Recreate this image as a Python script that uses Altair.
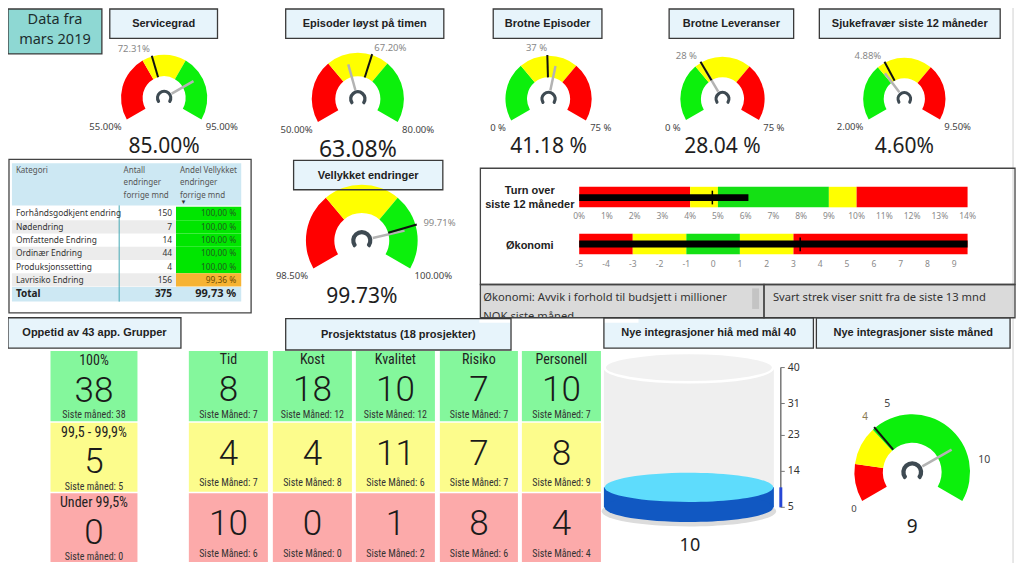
import math
import altair as alt
import pandas as pd

# ------------------------------------------------------------------ chart values
DATA_FROM_LINES = ["Data fra", "mars 2019"]

GAUGE_TITLES = ["Servicegrad", "Episoder løyst på timen", "Brotne Episoder",
                "Brotne Leveranser", "Sjukefravær siste 12 måneder",
                "Vellykket endringer", "Nye integrasjoner siste måned"]
GAUGE_MIN = [55.0, 50.0, 0.0, 0.0, 2.0, 98.5, 0.0]
GAUGE_MAX = [95.0, 80.0, 75.0, 75.0, 9.5, 100.0, 12.0]
GAUGE_BREAK_LOW = [70.0, 60.0, 25.0, 25.0, 4.5, 99.0, 1.9]
GAUGE_BREAK_HIGH = [80.0, 70.0, 50.0, 50.0, 7.0, 99.5, 3.85]
GAUGE_HIGHER_IS_BETTER = [True, True, False, False, False, True, True]
GAUGE_VALUE = [85.00, 63.08, 41.18, 28.04, 4.60, 99.73, 9.0]
GAUGE_TARGET = [72.31, 67.20, 37.0, 28.0, 4.88, 99.71, 4.0]
GAUGE_VALUE_TEXT = ["85.00%", "63.08%", "41.18 %", "28.04 %", "4.60%", "99.73%", "9"]
GAUGE_MIN_TEXT = ["55.00%", "50.00%", "0 %", "0 %", "2.00%", "98.50%", "0"]
GAUGE_MAX_TEXT = ["95.00%", "80.00%", "75 %", "75 %", "9.50%", "100.00%", ""]
GAUGE_TARGET_TEXT = ["72.31%", "67.20%", "37 %", "28 %", "4.88%", "99.71%", "4"]
LAST_GAUGE_TICKS = [5, 10]

TABLE_HEADERS = [["Kategori"], ["Antall", "endringer", "forrige mnd"],
                 ["Andel Vellykket", "endringer", "forrige mnd"]]
TABLE_CATEGORIES = ["Forhåndsgodkjent endring", "Nødendring", "Omfattende Endring",
                    "Ordinær Endring", "Produksjonssetting", "Lavrisiko Endring"]
TABLE_COUNTS = [150, 7, 14, 44, 4, 156]
TABLE_SHARE = [100.00, 100.00, 100.00, 100.00, 100.00, 99.36]
TABLE_TOTAL_COUNT = 375
TABLE_TOTAL_SHARE = 99.73

BULLET_NAMES = [["Turn over", "siste 12 måneder"], ["Økonomi"]]
BULLET_BREAKS = [[0, 4, 5, 9, 10, 14], [-5, -3, -1, 1, 3, 9.5]]
BULLET_VALUES = [6.1, 9.5]
BULLET_TARGETS = [4.8, 3.25]
BULLET_TICKS = [[0, 1, 2, 3, 4, 5, 6, 7, 8, 9, 10, 11, 12, 13, 14],
                [-5, -4, -3, -2, -1, 0, 1, 2, 3, 4, 5, 6, 7, 8, 9]]
BULLET_TICK_SUFFIX = ["%", ""]
NOTE_LEFT = ["Økonomi: Avvik i forhold til budsjett i millioner", "NOK siste måned"]
NOTE_RIGHT = "Svart strek viser snitt fra de siste 13 mnd"

UPTIME_TITLE = "Oppetid av 43 app. Grupper"
UPTIME_LABELS = ["100%", "99,5 - 99,9%", "Under 99,5%"]
UPTIME_VALUES = [38, 5, 0]
UPTIME_LAST = [38, 5, 0]

PROJECT_TITLE = "Prosjektstatus (18 prosjekter)"
PROJECT_CATEGORIES = ["Tid", "Kost", "Kvalitet", "Risiko", "Personell"]
PROJECT_GREEN = [8, 18, 10, 7, 10]
PROJECT_GREEN_LAST = [7, 12, 12, 7, 7]
PROJECT_YELLOW = [4, 4, 11, 7, 8]
PROJECT_YELLOW_LAST = [7, 8, 6, 7, 9]
PROJECT_RED = [10, 0, 1, 8, 4]
PROJECT_RED_LAST = [6, 0, 2, 6, 4]

TANK_TITLE = "Nye integrasjoner hiå med mål 40"
TANK_VALUE = 10
TANK_MIN = 5
TANK_MAX = 40
TANK_TICKS = [5, 14, 23, 31, 40]

# ------------------------------------------------------------------ styles
RED, YELLOW, GREEN = "#ff0000", "#ffff00", "#0cf00c"
TILE_COLORS = ["#84f79c", "#fcfc8c", "#fcaaaa"]
BOX_FILL, BOX_STROKE = "#e7f4fb", "#3a3a3a"
SANS = "Noto Sans"
BOLD = "Liberation Sans"
NARROW = "Liberation Sans Narrow, Roboto Condensed, Roboto"

# ------------------------------------------------------------------ layout (page pixels)
GAUGE_LAYOUT = [
    dict(cx=160, cy=93, ro=44, ri=22, box=(105, 2, 214, 32), vy=143, vs=21),
    dict(cx=356, cy=94, ro=47, ri=23, box=(283, 2, 443, 32), vy=146, vs=23),
    dict(cx=549, cy=94, ro=44, ri=22, box=(493, 2, 603, 32), vy=143, vs=21),
    dict(cx=725, cy=94, ro=43, ri=22, box=(671, 2, 797, 32), vy=143, vs=21),
    dict(cx=909, cy=94, ro=42, ri=21, box=(823, 2, 1006, 32), vy=143, vs=21),
    dict(cx=360, cy=239, ro=57, ri=28, box=(291, 157, 442, 187), vy=297, vs=21),
    dict(cx=917, cy=476, ro=59, ri=30, box=(820, 318, 1016, 349), vy=532, vs=19,
         centered=True),
]
K = 0.98  # pixel radius factor (page -> chart)

rects, borders, arcs, hubs, rules = [], [], [], [], []
pts_under, pts_over, texts = [], [], {}


def rect(x0, y0, x1, y1, fill):
    rects.append(dict(x=x0, x2=x1, y=y0, y2=y1, fill=fill))


def border(x0, y0, x1, y1, stroke=BOX_STROKE, w=1.3):
    borders.append(dict(x=x0, x2=x1, y=y0, y2=y1, stroke=stroke, sw=w))


def rule(x0, y0, x1, y1, color, w):
    rules.append(dict(x=x0, y=y0, x2=x1, y2=y1, color=color, sw=w))


def text(x, y, s, size, color, font=SANS, weight="normal", align="center"):
    texts.setdefault((font, weight, align), []).append(
        dict(x=x, y=y, text=s, size=size, color=color))


def title_box(box, title, fill=BOX_FILL):
    rect(*box, fill)
    border(*box)
    text((box[0] + box[2]) / 2, (box[1] + box[3]) / 2 + 0.5, title, 11, "#222", BOLD, "bold")


# Data fra box
rect(2, 2, 97, 48, "#8ed8d3")
border(2, 2, 97, 48)
text(49.5, 13.5, DATA_FROM_LINES[0], 14.5, "#1d2e2e")
text(49.5, 33.5, DATA_FROM_LINES[1], 14.5, "#1d2e2e")

# ------------------------------------------------------------------ gauges
for i in range(len(GAUGE_TITLES)):
    L = GAUGE_LAYOUT[i]
    cx, cy, ro, ri = L["cx"], L["cy"], L["ro"], L["ri"]
    lo, hi = GAUGE_MIN[i], GAUGE_MAX[i]

    def ang(v, lo=lo, hi=hi):
        return math.radians(-120 + 240 * (v - lo) / (hi - lo))

    edges = [lo, GAUGE_BREAK_LOW[i], GAUGE_BREAK_HIGH[i], hi]
    cols = [RED, YELLOW, GREEN] if GAUGE_HIGHER_IS_BETTER[i] else [GREEN, YELLOW, RED]
    for a, b, c in zip(edges[:-1], edges[1:], cols):
        arcs.append(dict(x=cx, y=cy, t0=ang(a), t1=ang(b), r0=ri * K, r1=ro * K, fill=c))
    hubs.append(dict(x=cx, y=cy, t0=-2.35, t1=2.35, r0=0.115 * ro * K, r1=0.19 * ro * K,
                     fill="#3e4a52"))
    av, at = ang(GAUGE_VALUE[i]), ang(GAUGE_TARGET[i])
    rule(cx + 0.2 * ro * math.sin(av), cy - 0.2 * ro * math.cos(av),
         cx + 0.78 * ro * math.sin(av), cy - 0.78 * ro * math.cos(av), "#b3b3b3", 2.5)
    rule(cx + ri * math.sin(at), cy - ri * math.cos(at),
         cx + (ro + 1) * math.sin(at), cy - (ro + 1) * math.cos(at), "#111111", 2)
    title_box(L["box"], GAUGE_TITLES[i])
    text(cx, L["vy"], GAUGE_VALUE_TEXT[i], L["vs"], "#1e1e1e")
    ex, ey = ro * math.sin(math.radians(120)), cy + ro * 0.5
    text(cx - ex - 5, ey + 8, GAUGE_MIN_TEXT[i], 9.5, "#444", align="right")
    if GAUGE_MAX_TEXT[i]:
        text(cx + ex + 4, ey + 8, GAUGE_MAX_TEXT[i], 9.5, "#444", align="left")
    if L.get("centered"):
        d = ro + 15
        text(cx + d * math.sin(at), cy - d * math.cos(at), GAUGE_TARGET_TEXT[i], 10, "#8a7a50")
        for t in LAST_GAUGE_TICKS:
            a = ang(t)
            text(cx + d * math.sin(a), cy - d * math.cos(a), str(t), 10.5, "#444")
    else:
        d = ro + 8
        text(cx + d * math.sin(at), cy - d * math.cos(at), GAUGE_TARGET_TEXT[i], 9.5, "#888",
             align="right" if at < 0 else "left")

# ------------------------------------------------------------------ table
rect(3, 156, 248, 313, "#ffffff")
border(3, 156, 248, 313, "#444", 1.3)
rect(6, 160, 238, 203, "#cde8f3")
for col_x, lines in zip([10, 119, 176], TABLE_HEADERS):
    for j, ln in enumerate(lines):
        text(col_x, 168 + j * 12.5, ln, 8, "#555", align="left")
text(179.5, 199.5, "▼", 6, "#333")
row_h, row_top = 13.6, 204.5
for r in range(len(TABLE_CATEGORIES)):
    y0 = row_top + r * row_h
    yc = y0 + row_h / 2
    if r % 2 == 1:
        rect(6, y0, 172, y0 + row_h, "#ececec")
    ok = TABLE_SHARE[r] >= 99.5
    rect(172, y0, 238, y0 + row_h, "#00e600" if ok else "#f6b333")
    text(10, yc, TABLE_CATEGORIES[r], 8.4, "#333", align="left")
    text(168, yc, str(TABLE_COUNTS[r]), 8.4, "#333", align="right")
    text(233, yc, f"{TABLE_SHARE[r]:.2f}".replace(".", ",") + " %", 8.4,
         "#1f5e1f" if ok else "#6b4c00", align="right")
rect(6, 286.5, 238, 301.5, "#cde8f3")
text(10, 294, "Total", 10, "#222", SANS, "bold", "left")
text(168, 294, str(TABLE_TOTAL_COUNT), 10, "#222", SANS, "bold", "right")
text(233, 294, f"{TABLE_TOTAL_SHARE:.2f}".replace(".", ",") + " %", 11, "#222", SANS, "bold", "right")
rule(114.5, 203, 114.5, 301.5, "#46a9b6", 1)

# ------------------------------------------------------------------ bullet charts
rect(480, 165, 1021, 284, "#ffffff")
border(480, 165, 1021, 284, "#444", 1.3)
BX0, BX1 = 580, 973
BULLET_ROWS = [dict(bar=(184, 205), meas=(191.5, 198.5), tgt=(188, 202), tick_y=214,
                    label_y=[188, 203]),
               dict(bar=(232, 253), meas=(239, 246), tgt=(236, 250), tick_y=263,
                    label_y=[245])]
BAND_COLORS = [RED, YELLOW, "#14e014", YELLOW, RED]
for b in range(2):
    R = BULLET_ROWS[b]
    brk = BULLET_BREAKS[b]
    lo, hi = brk[0], brk[-1]

    def px(v, lo=lo, hi=hi):
        return BX0 + (v - lo) / (hi - lo) * (BX1 - BX0)

    for a, c, col in zip(brk[:-1], brk[1:], BAND_COLORS):
        rect(px(a), R["bar"][0], px(c), R["bar"][1], col)
    rect(px(lo), R["meas"][0], px(BULLET_VALUES[b]), R["meas"][1], "#000000")
    rule(px(BULLET_TARGETS[b]), R["tgt"][0], px(BULLET_TARGETS[b]), R["tgt"][1], "#000000", 1.5)
    for t in BULLET_TICKS[b]:
        text(px(t), R["tick_y"], f"{t}{BULLET_TICK_SUFFIX[b]}", 8.5, "#8a8a8a")
    for ln, yy in zip(BULLET_NAMES[b], R["label_y"]):
        text(530, yy, ln, 11, "#222", BOLD, "bold")

rect(480, 284, 767, 318, "#dadada")
rect(767, 284, 1021, 318, "#dadada")
rect(755, 288, 762, 309, "#c4c4c4")
border(480, 284, 767, 318, "#444", 1.3)
border(767, 284, 1021, 318, "#444", 1.3)
text(483, 297.5, NOTE_LEFT[0], 11.2, "#333", align="left")
text(483, 317, NOTE_LEFT[1], 11.2, "#333", align="left")
text(776, 297.5, NOTE_RIGHT, 11.2, "#333", align="left")

# ------------------------------------------------------------------ tiles
TILE_ROWS = [(352, 424), (425.5, 496), (497.5, 568)]
BIG = ("Roboto", 300)
title_box((2, 318, 177, 349), UPTIME_TITLE)
for k in range(3):
    y0, y1 = TILE_ROWS[k]
    rect(45, y0, 133, y1, TILE_COLORS[k])
    text(89, y0 + 10.5, UPTIME_LABELS[k], 14, "#222", NARROW)
    text(89, y0 + 40.5, str(UPTIME_VALUES[k]), 35, "#1a1a1a", *BIG)
    text(89, y0 + 65.5, f"Siste måned: {UPTIME_LAST[k]}", 10, "#333", NARROW)

title_box((283, 319, 511, 351), PROJECT_TITLE)
PROJECT_COLS = [(185, 265), (270, 350), (354, 434), (439, 518), (522, 602)]
proj_rows = [(PROJECT_GREEN, PROJECT_GREEN_LAST), (PROJECT_YELLOW, PROJECT_YELLOW_LAST),
             (PROJECT_RED, PROJECT_RED_LAST)]
for c, (x0, x1) in enumerate(PROJECT_COLS):
    xc = (x0 + x1) / 2
    for k in range(3):
        y0, y1 = TILE_ROWS[k]
        rect(x0, y0, x1, y1, TILE_COLORS[k])
        vals, last = proj_rows[k]
        if k == 0:
            text(xc, y0 + 9.5, PROJECT_CATEGORIES[c], 14, "#222", NARROW)
            text(xc, y0 + 39.5, str(vals[c]), 35, "#1a1a1a", *BIG)
            text(xc, y0 + 65.5, f"Siste Måned: {last[c]}", 10, "#333", NARROW)
        else:
            text(xc, y0 + 32, str(vals[c]), 35, "#1a1a1a", *BIG)
            text(xc, y0 + 62, f"Siste Måned: {last[c]}", 10, "#333", NARROW)

# ------------------------------------------------------------------ tank
title_box((605, 318, 817, 349), TANK_TITLE)
TCX, TRX = 691, 86
TY0, TY1 = 512, 369  # pixel of TANK_MIN / TANK_MAX


def ty(v):
    return TY0 + (v - TANK_MIN) / (TANK_MAX - TANK_MIN) * (TY1 - TY0)


ELLIPSE = "M -1 0 A 1 0.174 0 1 0 1 0 A 1 0.174 0 1 0 -1 0 Z"
pts_under.append(dict(x=TCX, y=ty(TANK_MIN) + 4, size=(2 * 89 * K) ** 2, fill="#dcdcdc",
                      stroke="#dcdcdc", sw=0))
rect(TCX - TRX, ty(TANK_MAX), TCX + TRX, ty(TANK_MIN), "#efefef")
rect(TCX - TRX, ty(TANK_VALUE), TCX + TRX, ty(TANK_MIN), "#1158c2")
pts_over.append(dict(x=TCX, y=ty(TANK_MIN), size=(2 * TRX * K) ** 2, fill="#1158c2",
                     stroke="#1158c2", sw=0))
pts_over.append(dict(x=TCX, y=ty(TANK_VALUE), size=(2 * TRX * K) ** 2, fill="#5edcfc",
                     stroke="#5edcfc", sw=0))
pts_over.append(dict(x=TCX, y=ty(TANK_MAX), size=(2 * TRX * K) ** 2, fill="#f1f1f1",
                     stroke="#ffffff", sw=2.5))
rule(784, ty(TANK_MIN), 784, ty(TANK_MAX), "#777777", 1.5)
rule(784, ty(TANK_MIN), 784, ty(TANK_VALUE), "#2747d6", 3)
for t in TANK_TICKS:
    rule(784, ty(t), 788, ty(t), "#777777", 1)
    text(791, ty(t), str(t), 10.5, "#333", align="left")
text(692, 552, str(TANK_VALUE), 18, "#1e1e1e")

# right edge line
rule(1019, 0, 1019, 571, "#d0d0d0", 1)

# mask for the overflowing note line
masks = [dict(x=479, x2=640, y=318.3, y2=323, fill="#ffffff")]

# ------------------------------------------------------------------ build chart
XS = alt.Scale(domain=[2, 1022], range=[0, 1008])
YS = alt.Scale(domain=[1, 569], range=[0, 555])


def xy(xf="x", yf="y"):
    return dict(x=alt.X(f"{xf}:Q", scale=XS, axis=None),
                y=alt.Y(f"{yf}:Q", scale=YS, axis=None))


def rect_layer(rows):
    return alt.Chart(pd.DataFrame(rows)).mark_rect().encode(
        **xy(), x2="x2:Q", y2="y2:Q", fill=alt.Fill("fill:N", scale=None))


def arc_layer(rows, corner=0):
    return alt.Chart(pd.DataFrame(rows)).mark_arc(cornerRadius=corner).encode(
        **xy(),
        theta=alt.Theta("t0:Q", scale=None, stack=None), theta2="t1:Q",
        radius=alt.Radius("r1:Q", scale=None), radius2="r0:Q",
        fill=alt.Fill("fill:N", scale=None))


def point_layer(rows):
    return alt.Chart(pd.DataFrame(rows)).mark_point(shape=ELLIPSE, filled=True, opacity=1).encode(
        **xy(), size=alt.Size("size:Q", scale=None), fill=alt.Fill("fill:N", scale=None),
        stroke=alt.Stroke("stroke:N", scale=None), strokeWidth=alt.StrokeWidth("sw:Q", scale=None))


rule_layer = alt.Chart(pd.DataFrame(rules)).mark_rule(strokeCap="butt").encode(
    **xy(), x2="x2:Q", y2="y2:Q", color=alt.Color("color:N", scale=None),
    strokeWidth=alt.StrokeWidth("sw:Q", scale=None))

border_layer = alt.Chart(pd.DataFrame(borders)).mark_rect(fillOpacity=0).encode(
    **xy(), x2="x2:Q", y2="y2:Q", stroke=alt.Stroke("stroke:N", scale=None),
    strokeWidth=alt.StrokeWidth("sw:Q", scale=None))

text_layers = []
for (font, weight, align), rows in texts.items():
    text_layers.append(
        alt.Chart(pd.DataFrame(rows)).mark_text(font=font, fontWeight=weight, align=align,
                                                baseline="middle").encode(
            **xy(), text="text:N", size=alt.Size("size:Q", scale=None),
            color=alt.Color("color:N", scale=None)))

chart = alt.layer(
    point_layer(pts_under),
    rect_layer(rects),
    arc_layer(arcs),
    rule_layer,
    arc_layer(hubs, corner=1.5),
    point_layer(pts_over),
    *text_layers,
    rect_layer(masks),
    border_layer,
).properties(
    width=1008, height=555, padding=0, background="white",
    autosize=alt.AutoSizeParams(type="none"),
).configure_view(stroke="transparent")

chart.save("out.html", embed_options={"renderer": "svg", "actions": False})
